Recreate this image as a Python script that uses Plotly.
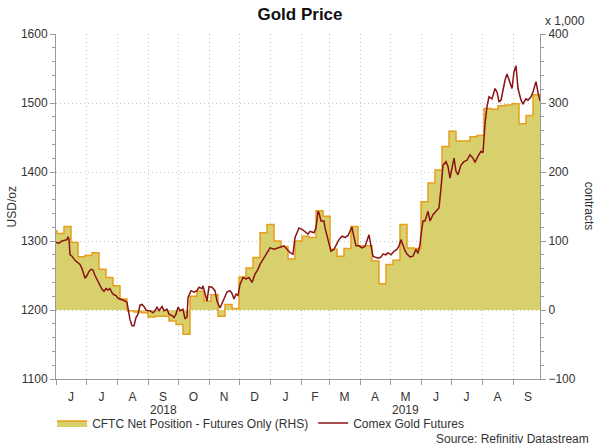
import pandas as pd
import plotly.graph_objects as go

# ---------------- data ----------------
gold_dates = [
"2018-06-01","2018-06-04","2018-06-07","2018-06-10","2018-06-12","2018-06-13","2018-06-14","2018-06-15","2018-06-17","2018-06-20",
"2018-06-22","2018-06-25","2018-06-27","2018-06-29","2018-06-30","2018-07-02","2018-07-04","2018-07-06","2018-07-08","2018-07-10",
"2018-07-12","2018-07-15","2018-07-17","2018-07-19","2018-07-21","2018-07-23","2018-07-25","2018-07-27","2018-07-29","2018-07-31",
"2018-08-02","2018-08-04","2018-08-06","2018-08-09","2018-08-11","2018-08-12","2018-08-14","2018-08-16","2018-08-18","2018-08-20",
"2018-08-22","2018-08-24","2018-08-26","2018-08-28","2018-08-30","2018-09-01","2018-09-03","2018-09-06","2018-09-08","2018-09-10",
"2018-09-12","2018-09-15","2018-09-17","2018-09-20","2018-09-22","2018-09-25","2018-09-27","2018-09-29","2018-10-01","2018-10-03",
"2018-10-06","2018-10-08","2018-10-10","2018-10-11","2018-10-14","2018-10-17","2018-10-20","2018-10-22","2018-10-25","2018-10-26",
"2018-10-28","2018-10-30","2018-11-01","2018-11-04","2018-11-07","2018-11-09","2018-11-12","2018-11-14","2018-11-16","2018-11-19",
"2018-11-22","2018-11-24","2018-11-26","2018-11-28","2018-11-30","2018-12-02","2018-12-05","2018-12-08","2018-12-11","2018-12-14",
"2018-12-17","2018-12-20","2018-12-22","2018-12-26","2018-12-29","2019-01-01","2019-01-05","2019-01-08","2019-01-11","2019-01-15",
"2019-01-18","2019-01-21","2019-01-24","2019-01-26","2019-01-28","2019-01-30","2019-02-02","2019-02-05","2019-02-08","2019-02-10",
"2019-02-14","2019-02-16","2019-02-18","2019-02-19","2019-02-21","2019-02-24","2019-02-25","2019-02-28","2019-03-03","2019-03-06",
"2019-03-09","2019-03-11","2019-03-14","2019-03-17","2019-03-20","2019-03-22","2019-03-24","2019-03-25","2019-03-28","2019-03-31",
"2019-04-03","2019-04-06","2019-04-08","2019-04-10","2019-04-12","2019-04-14","2019-04-17","2019-04-20","2019-04-22","2019-04-24",
"2019-04-27","2019-04-29","2019-05-02","2019-05-05","2019-05-08","2019-05-10","2019-05-12","2019-05-14","2019-05-16","2019-05-18",
"2019-05-21","2019-05-24","2019-05-27","2019-05-29","2019-05-31","2019-06-01","2019-06-03","2019-06-05","2019-06-08","2019-06-10",
"2019-06-13","2019-06-16","2019-06-19","2019-06-21","2019-06-23","2019-06-26","2019-06-28","2019-06-30","2019-07-02","2019-07-04",
"2019-07-06","2019-07-08","2019-07-11","2019-07-14","2019-07-17","2019-07-20","2019-07-23","2019-07-25","2019-07-28","2019-07-31",
"2019-08-02","2019-08-04","2019-08-06","2019-08-08","2019-08-11","2019-08-14","2019-08-16","2019-08-18","2019-08-20","2019-08-22",
"2019-08-24","2019-08-26","2019-08-29","2019-08-31","2019-09-02","2019-09-04","2019-09-06","2019-09-09","2019-09-11","2019-09-14",
"2019-09-16","2019-09-19","2019-09-21","2019-09-24","2019-09-26","2019-09-28"]

gold_usd = [
1298,1297,1300,1301,1302,1306,1303,1280,1278,1272,
1270,1266,1260,1250,1246,1250,1256,1259,1258,1250,
1244,1236,1230,1227,1231,1229,1231,1225,1222,1221,
1217,1216,1215,1213,1211,1203,1186,1177,1177,1189,
1194,1207,1208,1205,1200,1199,1199,1196,1199,1204,
1199,1205,1199,1201,1194,1192,1189,1194,1204,1199,
1201,1187,1190,1218,1228,1226,1228,1233,1231,1235,
1224,1213,1234,1233,1228,1213,1203,1210,1218,1226,
1228,1224,1216,1223,1221,1237,1247,1245,1247,1240,
1252,1259,1266,1276,1283,1290,1288,1290,1291,1293,
1288,1283,1281,1305,1312,1319,1317,1314,1310,1314,
1312,1319,1343,1341,1329,1329,1319,1302,1285,1288,
1297,1302,1307,1305,1308,1314,1320,1312,1293,1293,
1290,1292,1300,1309,1293,1278,1276,1275,1277,1281,
1280,1283,1280,1285,1288,1293,1302,1293,1286,1281,
1277,1278,1288,1282,1295,1309,1329,1329,1343,1329,
1338,1343,1348,1377,1410,1415,1408,1391,1405,1420,
1401,1396,1410,1415,1417,1425,1420,1414,1423,1430,
1428,1470,1495,1509,1506,1521,1516,1502,1504,1520,
1533,1542,1528,1521,1545,1554,1521,1504,1499,1506,
1504,1509,1516,1531,1515,1503]

# weekly CFTC net position (thousand contracts), one value per week (Saturdays)
cftc_first_week = "2018-05-26"
cftc_net_k = [
115,111,121,98,77,79,83,59,47,35,
16,-1,-3,-4,-10,-9,-9,-16,-21,-35,
20,27,13,22,-9,8,2,48,61,76,
112,124,100,92,74,100,107,105,144,136,
88,78,89,121,93,93,71,38,66,72,
124,90,89,157,184,203,237,259,245,245,
251,253,292,291,296,297,299,270,282,312,
308]

month_letters = ["J","J","A","S","O","N","D","J","F","M","A","M","J","J","A","S"]
first_month = "2018-06-01"
x_start, x_end = "2018-06-01", "2019-09-28"
years = ["2018", "2019"]

usd_range = [1100, 1600]
cftc_range = [-100, 400]

# ---------------- styling ----------------
FONT = "Liberation Sans, Arial, sans-serif"
TXT = "#333333"
AXIS = "#9a9a9a"
GRID = "#c4c4c4"
GRID_DASH = "1px,3px"
FILL = "rgb(216,208,108)"
ORANGE = "rgb(232,158,28)"
DARKRED = "rgb(139,18,22)"

cftc_dates = pd.date_range(cftc_first_week, periods=len(cftc_net_k), freq="7D")
month_starts = pd.date_range(first_month, periods=len(month_letters) + 1, freq="MS")
month_mids = [a + (b - a) / 2 for a, b in zip(month_starts[:-1], month_starts[1:])]

fig = go.Figure()
fig.add_trace(go.Scatter(
    x=cftc_dates, y=cftc_net_k, yaxis="y", name="CFTC Net Position - Futures Only (RHS)",
    mode="lines", line=dict(color=ORANGE, width=1.5, shape="hv"),
    fill="tozeroy", fillcolor=FILL))
fig.add_trace(go.Scatter(
    x=pd.to_datetime(gold_dates), y=gold_usd, yaxis="y2", name="Comex Gold Futures",
    mode="lines", line=dict(color=DARKRED, width=1.5)))

# year labels centred on the part of each year inside the axis range
lo, hi = pd.Timestamp(x_start), pd.Timestamp(x_end)
annotations = []
for yr in years:
    a = max(lo, pd.Timestamp(f"{yr}-01-01"))
    b = min(hi, pd.Timestamp(f"{int(yr)+1}-01-01"))
    annotations.append(dict(x=a + (b - a) / 2, y=-0.09, xref="x", yref="paper", text=yr,
                            showarrow=False, font=dict(size=12, color=TXT, family=FONT),
                            xanchor="center", yanchor="middle"))

annotations += [
    dict(x=-0.091, y=0.5, xref="paper", yref="paper", text="USD/oz", textangle=-90,
         showarrow=False, font=dict(size=12, color=TXT, family=FONT), xanchor="center", yanchor="middle"),
    dict(x=1.103, y=0.5, xref="paper", yref="paper", text="contracts", textangle=90,
         showarrow=False, font=dict(size=12, color=TXT, family=FONT), xanchor="center", yanchor="middle"),
    dict(x=1.052, y=1.038, xref="paper", yref="paper", text="x 1,000",
         showarrow=False, font=dict(size=12, color=TXT, family=FONT), xanchor="center", yanchor="middle"),
    dict(x=1.105, y=-0.173, xref="paper", yref="paper", text="Source: Refinitiv Datastream",
         showarrow=False, font=dict(size=12, color=TXT, family=FONT), xanchor="right", yanchor="middle"),
]

fig.update_layout(
    width=600, height=448,
    margin=dict(l=56, r=60, t=34, b=68),
    paper_bgcolor="white", plot_bgcolor="white",
    font=dict(family=FONT, size=12, color=TXT),
    title=dict(text="<b>Gold Price</b>", x=0.5, xanchor="center", y=0.969, yanchor="middle",
               font=dict(size=17, color="#111111", family=FONT)),
    showlegend=True,
    legend=dict(orientation="h", x=-0.008, y=-0.124, xanchor="left", yanchor="middle",
                font=dict(size=12, color=TXT, family=FONT), bgcolor="rgba(0,0,0,0)"),
    annotations=annotations,
    xaxis=dict(
        type="date", range=[x_start, x_end],
        tickmode="array", tickvals=month_mids, ticktext=month_letters,
        ticks="outside", ticklen=7, tickcolor="rgba(0,0,0,0)",
        showgrid=False, showline=True, linecolor=AXIS, linewidth=1,
        tickfont=dict(size=12, color=TXT, family=FONT),
        minor=dict(tickmode="array", tickvals=list(month_starts), ticks="outside", ticklen=5,
                   tickcolor=AXIS, showgrid=True, gridcolor=GRID, griddash=GRID_DASH, gridwidth=1),
        zeroline=False,
    ),
    yaxis=dict(
        side="right", range=cftc_range, dtick=100, tick0=0,
        ticks="outside", ticklen=5, tickcolor=AXIS, showline=True, linecolor=AXIS,
        showgrid=True, gridcolor=GRID, griddash=GRID_DASH, zeroline=False,
        tickfont=dict(size=12, color=TXT, family=FONT),
        minor=dict(dtick=20, ticks="outside", ticklen=3, tickcolor=AXIS, showgrid=False),
    ),
    yaxis2=dict(
        side="left", overlaying="y", range=usd_range, dtick=100, tick0=1100,
        ticks="outside", ticklen=5, tickcolor=AXIS, showline=True, linecolor=AXIS,
        showgrid=False, zeroline=False,
        tickfont=dict(size=12, color=TXT, family=FONT),
        minor=dict(dtick=20, ticks="outside", ticklen=3, tickcolor=AXIS, showgrid=False),
    ),
)

# remove the browser's default 8px page margin so the figure sits at the window's corner
fig.write_html("out.html", config={"displayModeBar": False, "staticPlot": True},
               post_script="document.body.style.margin='0px';")
